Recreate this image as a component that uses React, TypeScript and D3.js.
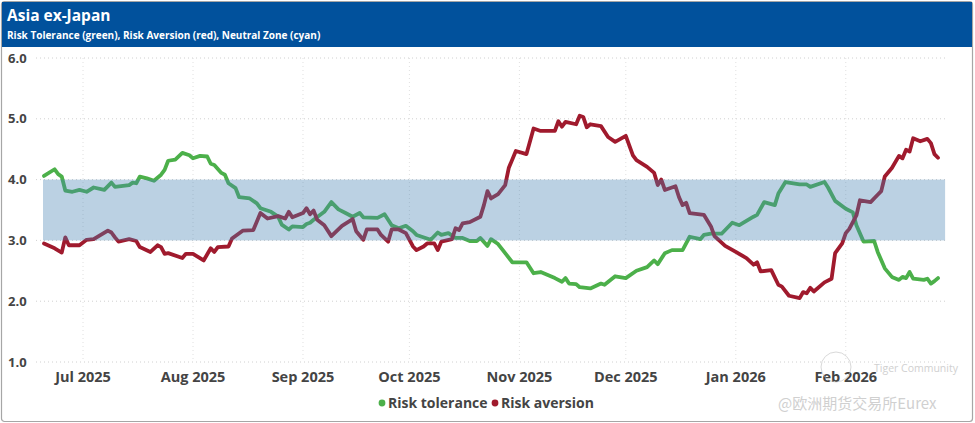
import React from "react";
import * as d3 from "d3";

const chartTitle = "Asia ex-Japan";
const chartSubtitle = "Risk Tolerance (green), Risk Aversion (red), Neutral Zone (cyan)";

const yTicks = [1, 2, 3, 4, 5, 6];
const monthTicks = ["2025-07-01", "2025-08-01", "2025-09-01", "2025-10-01", "2025-11-01", "2025-12-01", "2026-01-01", "2026-02-01"];
const dateDomain = ["2025-06-20", "2026-02-27"];
const neutralZone = { from: 3, to: 4, start: "2025-06-20", end: "2026-03-01" };

const seriesNames = ["Risk tolerance", "Risk aversion"];
const seriesColors = ["#4cb04a", "#a01a2d"];

const riskTolerance: [string, number][] = [
  ["2025-06-20", 4.06], ["2025-06-23", 4.17], ["2025-06-24", 4.09], ["2025-06-25", 4.05], ["2025-06-26", 3.82], ["2025-06-28", 3.8], ["2025-06-30", 3.83], ["2025-07-02", 3.8], ["2025-07-04", 3.87], ["2025-07-07", 3.83], ["2025-07-09", 3.95], ["2025-07-10", 3.88], ["2025-07-14", 3.91], ["2025-07-15", 3.95], ["2025-07-16", 3.94], ["2025-07-17", 4.05], ["2025-07-19", 4.02], ["2025-07-21", 3.98], ["2025-07-23", 4.08], ["2025-07-24", 4.16], ["2025-07-25", 4.31], ["2025-07-27", 4.33], ["2025-07-29", 4.44], ["2025-07-31", 4.4], ["2025-08-01", 4.35], ["2025-08-03", 4.39], ["2025-08-05", 4.38], ["2025-08-06", 4.26], ["2025-08-07", 4.24], ["2025-08-09", 4.11], ["2025-08-10", 4.08], ["2025-08-11", 3.94], ["2025-08-13", 3.86], ["2025-08-14", 3.71], ["2025-08-17", 3.69], ["2025-08-19", 3.61], ["2025-08-20", 3.53], ["2025-08-23", 3.47], ["2025-08-25", 3.39], ["2025-08-26", 3.26], ["2025-08-28", 3.18], ["2025-08-29", 3.23], ["2025-09-01", 3.22], ["2025-09-02", 3.27], ["2025-09-03", 3.29], ["2025-09-04", 3.34], ["2025-09-07", 3.47], ["2025-09-09", 3.63], ["2025-09-11", 3.51], ["2025-09-13", 3.45], ["2025-09-15", 3.39], ["2025-09-17", 3.45], ["2025-09-18", 3.38], ["2025-09-22", 3.37], ["2025-09-24", 3.43], ["2025-09-26", 3.25], ["2025-09-28", 3.2], ["2025-09-30", 3.24], ["2025-10-02", 3.15], ["2025-10-03", 3.09], ["2025-10-07", 3.01], ["2025-10-09", 3.13], ["2025-10-10", 3.09], ["2025-10-12", 3.12], ["2025-10-14", 3.04], ["2025-10-16", 3.04], ["2025-10-18", 2.99], ["2025-10-20", 2.99], ["2025-10-21", 3.04], ["2025-10-23", 2.91], ["2025-10-24", 3.02], ["2025-10-26", 2.94], ["2025-10-28", 2.79], ["2025-10-30", 2.64], ["2025-11-03", 2.64], ["2025-11-05", 2.46], ["2025-11-07", 2.48], ["2025-11-11", 2.38], ["2025-11-13", 2.32], ["2025-11-14", 2.38], ["2025-11-15", 2.29], ["2025-11-17", 2.28], ["2025-11-18", 2.23], ["2025-11-21", 2.21], ["2025-11-24", 2.29], ["2025-11-25", 2.27], ["2025-11-28", 2.41], ["2025-12-01", 2.38], ["2025-12-04", 2.5], ["2025-12-07", 2.56], ["2025-12-09", 2.67], ["2025-12-10", 2.61], ["2025-12-12", 2.79], ["2025-12-14", 2.84], ["2025-12-17", 2.84], ["2025-12-19", 3.06], ["2025-12-22", 3.02], ["2025-12-23", 3.09], ["2025-12-25", 3.11], ["2025-12-28", 3.11], ["2025-12-31", 3.29], ["2026-01-02", 3.25], ["2026-01-06", 3.39], ["2026-01-07", 3.42], ["2026-01-09", 3.63], ["2026-01-12", 3.58], ["2026-01-13", 3.77], ["2026-01-15", 3.96], ["2026-01-19", 3.92], ["2026-01-21", 3.92], ["2026-01-22", 3.88], ["2026-01-26", 3.96], ["2026-01-27", 3.87], ["2026-01-29", 3.65], ["2026-02-01", 3.52], ["2026-02-03", 3.46], ["2026-02-04", 3.25], ["2026-02-06", 2.98], ["2026-02-09", 2.99], ["2026-02-10", 2.81], ["2026-02-12", 2.54], ["2026-02-14", 2.4], ["2026-02-16", 2.35], ["2026-02-17", 2.4], ["2026-02-18", 2.38], ["2026-02-19", 2.48], ["2026-02-20", 2.37], ["2026-02-23", 2.35], ["2026-02-24", 2.37], ["2026-02-25", 2.29], ["2026-02-26", 2.33], ["2026-02-27", 2.38],
];

const riskAversion: [string, number][] = [
  ["2025-06-20", 2.95], ["2025-06-23", 2.87], ["2025-06-25", 2.8], ["2025-06-26", 3.05], ["2025-06-27", 2.92], ["2025-06-30", 2.92], ["2025-07-02", 3.01], ["2025-07-04", 3.02], ["2025-07-06", 3.09], ["2025-07-08", 3.16], ["2025-07-09", 3.13], ["2025-07-10", 3.05], ["2025-07-11", 2.98], ["2025-07-14", 3.02], ["2025-07-16", 2.99], ["2025-07-17", 2.89], ["2025-07-20", 2.81], ["2025-07-22", 2.92], ["2025-07-23", 2.89], ["2025-07-24", 2.78], ["2025-07-25", 2.79], ["2025-07-29", 2.71], ["2025-07-30", 2.78], ["2025-08-01", 2.78], ["2025-08-04", 2.67], ["2025-08-06", 2.87], ["2025-08-07", 2.81], ["2025-08-08", 2.89], ["2025-08-11", 2.9], ["2025-08-12", 3.03], ["2025-08-15", 3.16], ["2025-08-18", 3.17], ["2025-08-20", 3.45], ["2025-08-22", 3.36], ["2025-08-25", 3.4], ["2025-08-27", 3.36], ["2025-08-28", 3.47], ["2025-08-29", 3.38], ["2025-09-01", 3.45], ["2025-09-02", 3.53], ["2025-09-03", 3.43], ["2025-09-04", 3.49], ["2025-09-05", 3.34], ["2025-09-07", 3.25], ["2025-09-09", 3.07], ["2025-09-12", 3.24], ["2025-09-15", 3.35], ["2025-09-16", 3.15], ["2025-09-18", 3.01], ["2025-09-19", 3.18], ["2025-09-22", 3.18], ["2025-09-23", 3.09], ["2025-09-25", 2.98], ["2025-09-26", 3.18], ["2025-09-28", 3.18], ["2025-09-30", 3.12], ["2025-10-02", 2.9], ["2025-10-03", 2.84], ["2025-10-05", 2.9], ["2025-10-06", 2.95], ["2025-10-08", 2.95], ["2025-10-09", 2.84], ["2025-10-10", 2.98], ["2025-10-13", 3.02], ["2025-10-14", 3.2], ["2025-10-15", 3.17], ["2025-10-16", 3.28], ["2025-10-18", 3.3], ["2025-10-21", 3.39], ["2025-10-22", 3.58], ["2025-10-23", 3.81], ["2025-10-24", 3.69], ["2025-10-26", 3.76], ["2025-10-28", 3.91], ["2025-10-29", 4.19], ["2025-10-31", 4.47], ["2025-11-03", 4.42], ["2025-11-05", 4.84], ["2025-11-07", 4.8], ["2025-11-11", 4.8], ["2025-11-12", 4.96], ["2025-11-13", 4.87], ["2025-11-14", 4.95], ["2025-11-17", 4.91], ["2025-11-18", 5.05], ["2025-11-19", 5.03], ["2025-11-20", 4.86], ["2025-11-21", 4.91], ["2025-11-24", 4.88], ["2025-11-26", 4.7], ["2025-11-28", 4.62], ["2025-12-01", 4.72], ["2025-12-03", 4.4], ["2025-12-04", 4.32], ["2025-12-07", 4.21], ["2025-12-09", 4.11], ["2025-12-10", 3.91], ["2025-12-11", 4.0], ["2025-12-12", 3.83], ["2025-12-15", 3.89], ["2025-12-16", 3.71], ["2025-12-17", 3.58], ["2025-12-18", 3.62], ["2025-12-19", 3.45], ["2025-12-23", 3.42], ["2025-12-25", 3.23], ["2025-12-26", 3.07], ["2025-12-29", 2.91], ["2026-01-01", 2.81], ["2026-01-04", 2.71], ["2026-01-06", 2.6], ["2026-01-07", 2.64], ["2026-01-08", 2.49], ["2026-01-11", 2.51], ["2026-01-13", 2.27], ["2026-01-14", 2.24], ["2026-01-16", 2.09], ["2026-01-19", 2.05], ["2026-01-20", 2.15], ["2026-01-21", 2.13], ["2026-01-22", 2.22], ["2026-01-23", 2.16], ["2026-01-26", 2.31], ["2026-01-28", 2.37], ["2026-01-29", 2.79], ["2026-01-31", 2.95], ["2026-02-01", 3.12], ["2026-02-02", 3.19], ["2026-02-04", 3.41], ["2026-02-05", 3.66], ["2026-02-08", 3.63], ["2026-02-10", 3.75], ["2026-02-11", 3.81], ["2026-02-12", 4.05], ["2026-02-14", 4.19], ["2026-02-16", 4.39], ["2026-02-17", 4.35], ["2026-02-18", 4.49], ["2026-02-19", 4.46], ["2026-02-20", 4.68], ["2026-02-22", 4.63], ["2026-02-24", 4.67], ["2026-02-25", 4.6], ["2026-02-26", 4.42], ["2026-02-27", 4.36],
];

const W = 975;
const H = 423;
const parse = d3.timeParse("%Y-%m-%d");
const fmt = d3.timeFormat("%b %Y");
const FONT = "'Open Sans', 'Noto Sans', sans-serif";

export default function App() {
  const x = d3.scaleTime().domain(dateDomain.map((d) => parse(d) as Date)).range([44, 938]);
  const y = d3.scaleLinear().domain([1, 6]).range([362, 58]);
  const line = d3
    .line<[string, number]>()
    .x((d) => x(parse(d[0]) as Date))
    .y((d) => y(d[1]))
    .curve(d3.curveLinear);
  const series = [riskTolerance, riskAversion];
  const bx0 = x(parse(neutralZone.start) as Date) - 1;
  const bx1 = x(parse(neutralZone.end) as Date);

  return (
    <svg
      width={W}
      height={H}
      viewBox={`0 0 ${W} ${H}`}
      style={{ position: "absolute", left: 0, top: 0, fontFamily: FONT }}
    >
      <rect x={1.5} y={1.5} width={W - 4} height={H - 3} rx={3} fill="#fff" stroke="#a6a6a6" strokeWidth={1.2} />
      <rect x={2} y={2} width={W - 5} height={45} fill="#01519c" />
      <text x={7} y={21} fill="#fff" fontSize={15.5} fontWeight={700}>{chartTitle}</text>
      <text x={7} y={38.5} fill="#fff" fontSize={10} fontWeight={700}>{chartSubtitle}</text>

      {yTicks.map((t) => (
        <line key={"gy" + t} x1={36} x2={948} y1={y(t)} y2={y(t)} stroke="#d0d0d0" strokeWidth={1} strokeDasharray="1,3" />
      ))}
      {monthTicks.map((m) => (
        <line key={"gx" + m} x1={x(parse(m) as Date)} x2={x(parse(m) as Date)} y1={y(6)} y2={y(1)} stroke="#e0e0e0" strokeWidth={1} strokeDasharray="1,3" />
      ))}
      {yTicks.map((t) => (
        <text key={"ty" + t} x={8} y={y(t) + 4.5} fill="#444" fontSize={13} fontWeight={700}>{d3.format(".1f")(t)}</text>
      ))}
      {monthTicks.map((m) => (
        <text key={"tx" + m} x={x(parse(m) as Date)} y={381.5} textAnchor="middle" fill="#444" fontSize={14.5} fontWeight={700}>{fmt(parse(m) as Date)}</text>
      ))}

      {series.map((s, i) => (
        <path key={"s" + i} d={line(s) || ""} fill="none" stroke={seriesColors[i]} strokeWidth={3.8} strokeLinejoin="round" strokeLinecap="round" />
      ))}

      <rect x={bx0} y={y(neutralZone.to)} width={bx1 - bx0} height={y(neutralZone.from) - y(neutralZone.to)} fill="steelblue" fillOpacity={0.37} />

      <g fontSize={14} fontWeight={700} fill="#444">
        <circle cx={382} cy={403} r={3.4} fill={seriesColors[0]} />
        <text x={388} y={408}>{seriesNames[0]}</text>
        <circle cx={495} cy={403} r={3.4} fill={seriesColors[1]} />
        <text x={501} y={408}>{seriesNames[1]}</text>
      </g>

      <g opacity={0.55}>
        <circle cx={836} cy={367} r={15} fill="none" stroke="#bbb" strokeWidth={1} />
        <text x={874} y={372} fontSize={10.5} fill="#aaa">Tiger Community</text>
        <text x={778} y={409} fontSize={15} fill="#aaa" fontFamily="'Noto Sans CJK SC', sans-serif">@欧洲期货交易所Eurex</text>
      </g>
    </svg>
  );
}
